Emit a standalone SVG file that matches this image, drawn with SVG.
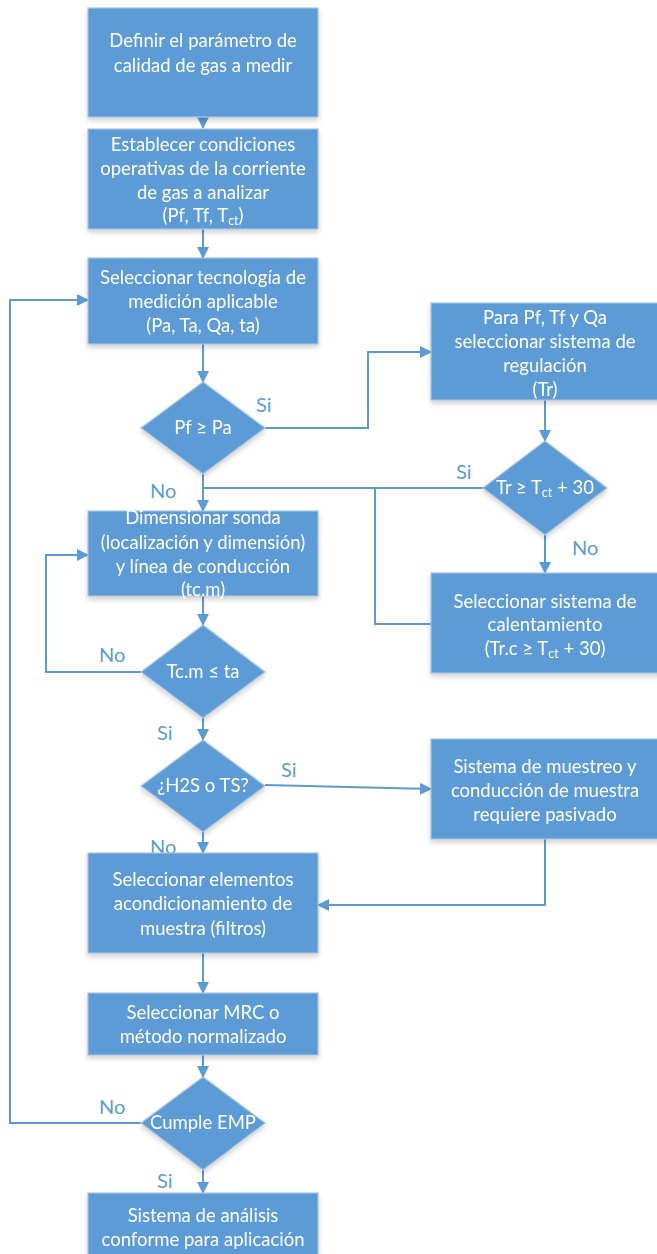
<svg xmlns="http://www.w3.org/2000/svg" width="657" height="1254" viewBox="0 0 657 1254">
<style>
.n{fill:#5B9BD5;stroke:#A9C3E3;stroke-width:1.2}
.t{font-family:Lato,"Liberation Sans",sans-serif;font-size:18.5px;fill:#fff;text-anchor:middle}
.l{font-family:Lato,"Liberation Sans",sans-serif;font-size:20px;fill:#5B9BD5}
.c{fill:none;stroke:#5B9BD5;stroke-width:2}
</style>
<defs>
<marker id="a" viewBox="0 0 12 12" refX="11" refY="6" markerWidth="12" markerHeight="12" markerUnits="userSpaceOnUse" orient="auto">
<path d="M0,0 L12,6 L0,12 z" fill="#5B9BD5"/>
</marker>
<filter id="s" x="-10%" y="-10%" width="120%" height="130%">
<feDropShadow dx="0" dy="3" stdDeviation="2.5" flood-color="#000" flood-opacity="0.18"/>
</filter>
</defs>
<rect width="657" height="1254" fill="#fff"/>
<g id="connectors">
<path class="c" d="M203,117 V128" marker-end="url(#a)"/>
<path class="c" d="M203,229 V258" marker-end="url(#a)"/>
<path class="c" d="M203,344 V382" marker-end="url(#a)"/>
<path class="c" d="M265,428 H368 V352 H431" marker-end="url(#a)"/>
<path class="c" d="M545,400 V441" marker-end="url(#a)"/>
<path class="c" d="M483,488 H203"/>
<path class="c" d="M203,474 V511" marker-end="url(#a)"/>
<path class="c" d="M545,535 V573" marker-end="url(#a)"/>
<path class="c" d="M431,624 H375 V488"/>
<path class="c" d="M203,596 V625" marker-end="url(#a)"/>
<path class="c" d="M141,672 H46 V555 H88" marker-end="url(#a)"/>
<path class="c" d="M203,718 V740" marker-end="url(#a)"/>
<path class="c" d="M265,785 L431,789" marker-end="url(#a)"/>
<path class="c" d="M545,839 V905 H318" marker-end="url(#a)"/>
<path class="c" d="M203,832 V853" marker-end="url(#a)"/>
<path class="c" d="M203,953 V993" marker-end="url(#a)"/>
<path class="c" d="M203,1055 V1077" marker-end="url(#a)"/>
<path class="c" d="M141,1123 H10 V300 H88" marker-end="url(#a)"/>
<path class="c" d="M203,1170 V1193" marker-end="url(#a)"/>
</g>
<g id="labels">
<text class="l" x="256" y="412">Si</text>
<text class="l" x="456" y="479">Si</text>
<text class="l" x="150" y="498">No</text>
<text class="l" x="572" y="555">No</text>
<text class="l" x="99" y="662">No</text>
<text class="l" x="157" y="740">Si</text>
<text class="l" x="281" y="777">Si</text>
<text class="l" x="150" y="854">No</text>
<text class="l" x="99" y="1114">No</text>
<text class="l" x="157" y="1188">Si</text>
</g>
<g id="n1" filter="url(#s)"><rect class="n" x="88" y="8" width="230" height="109"/>
<text class="t" x="203" y="47">Definir el parámetro de</text><text class="t" x="203" y="72">calidad de gas a medir</text></g>
<g id="n2" filter="url(#s)"><rect class="n" x="88" y="129" width="230" height="100"/>
<text class="t" x="203" y="151">Establecer condiciones</text><text class="t" x="203" y="175">operativas de la corriente</text><text class="t" x="203" y="199">de gas a analizar</text><text class="t" x="203" y="222">(Pf, Tf, T<tspan font-size="12.5" dy="3">ct</tspan><tspan dy="-3">)</tspan></text></g>
<g id="n3" filter="url(#s)"><rect class="n" x="88" y="258" width="230" height="86"/>
<text class="t" x="203" y="284">Seleccionar tecnología de</text><text class="t" x="203" y="308">medición aplicable</text><text class="t" x="203" y="332">(Pa, Ta, Qa, ta)</text></g>
<g id="d1" filter="url(#s)"><polygon class="n" points="203,382 265,428 203,474 141,428"/>
<text class="t" x="203" y="434">Pf ≥ Pa</text></g>
<g id="r1" filter="url(#s)"><rect class="n" x="431" y="303" width="230" height="97"/>
<text class="t" x="545" y="324">Para Pf, Tf y Qa</text><text class="t" x="545" y="348">seleccionar sistema de</text><text class="t" x="545" y="372">regulación</text><text class="t" x="545" y="396">(Tr)</text></g>
<g id="d2" filter="url(#s)"><polygon class="n" points="545,441 607,488 545,535 483,488"/>
<text class="t" x="545" y="494">Tr ≥ T<tspan font-size="12.5" dy="3">ct</tspan><tspan dy="-3"> + 30</tspan></text></g>
<g id="n4" filter="url(#s)"><rect class="n" x="88" y="511" width="230" height="85"/>
<text class="t" x="203" y="524">Dimensionar sonda</text><text class="t" x="203" y="549">(localización y dimensión)</text><text class="t" x="203" y="573">y línea de conducción</text><text class="t" x="203" y="596">(tc.m)</text></g>
<g id="r2" filter="url(#s)"><rect class="n" x="431" y="573" width="230" height="100"/>
<text class="t" x="545" y="608">Seleccionar sistema de</text><text class="t" x="545" y="631">calentamiento</text><text class="t" x="545" y="655">(Tr.c ≥ T<tspan font-size="12.5" dy="3">ct</tspan><tspan dy="-3"> + 30)</tspan></text></g>
<g id="d3" filter="url(#s)"><polygon class="n" points="203,625 265,672 203,718 141,672"/>
<text class="t" x="203" y="678">Tc.m ≤ ta</text></g>
<g id="d4" filter="url(#s)"><polygon class="n" points="203,740 265,786 203,832 141,786"/>
<text class="t" x="203" y="792">¿H2S o TS?</text></g>
<g id="r3" filter="url(#s)"><rect class="n" x="431" y="739" width="230" height="100"/>
<text class="t" x="545" y="773">Sistema de muestreo y</text><text class="t" x="545" y="797">conducción de muestra</text><text class="t" x="545" y="821">requiere pasivado</text></g>
<g id="n5" filter="url(#s)"><rect class="n" x="88" y="853" width="230" height="100"/>
<text class="t" x="203" y="886">Seleccionar elementos</text><text class="t" x="203" y="910">acondicionamiento de</text><text class="t" x="203" y="935">muestra (filtros)</text></g>
<g id="n6" filter="url(#s)"><rect class="n" x="88" y="993" width="230" height="62"/>
<text class="t" x="203" y="1019">Seleccionar MRC o</text><text class="t" x="203" y="1043">método normalizado</text></g>
<g id="d5" filter="url(#s)"><polygon class="n" points="203,1077 265,1123 203,1170 141,1123"/>
<text class="t" x="203" y="1129">Cumple EMP</text></g>
<g id="n7" filter="url(#s)"><rect class="n" x="88" y="1193" width="230" height="70"/>
<text class="t" x="203" y="1222">Sistema de análisis</text><text class="t" x="203" y="1246">conforme para aplicación</text></g>
</svg>
